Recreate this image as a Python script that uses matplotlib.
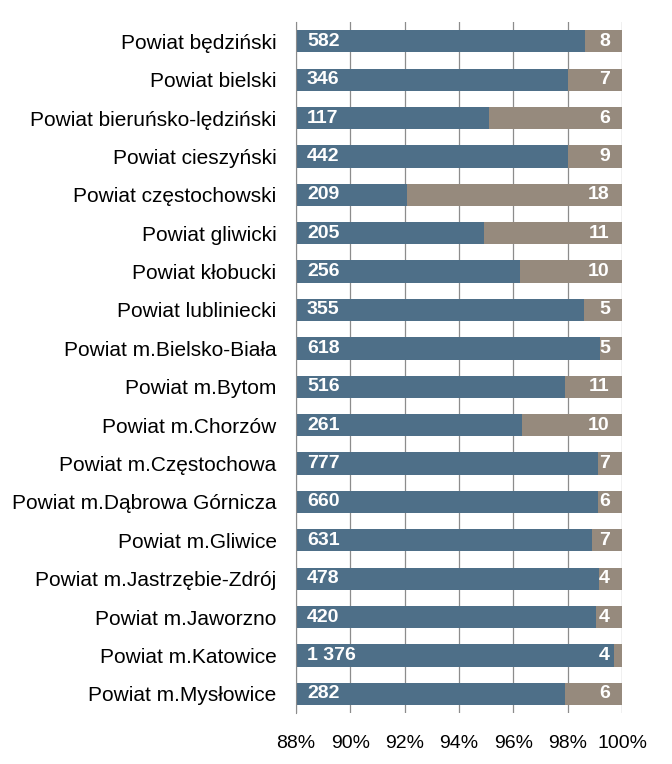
import numpy as np
import matplotlib.pyplot as plt
from matplotlib.ticker import FuncFormatter

plt.rcParams['font.family'] = ['Liberation Sans', 'DejaVu Sans']

powiaty = ['Powiat będziński', 'Powiat bielski', 'Powiat bieruńsko-lędziński',
           'Powiat cieszyński', 'Powiat częstochowski', 'Powiat gliwicki',
           'Powiat kłobucki', 'Powiat lubliniecki', 'Powiat m.Bielsko-Biała',
           'Powiat m.Bytom', 'Powiat m.Chorzów', 'Powiat m.Częstochowa',
           'Powiat m.Dąbrowa Górnicza', 'Powiat m.Gliwice',
           'Powiat m.Jastrzębie-Zdrój', 'Powiat m.Jaworzno',
           'Powiat m.Katowice', 'Powiat m.Mysłowice']
blue_vals = [582, 346, 117, 442, 209, 205, 256, 355, 618, 516, 261, 777, 660, 631,
             478, 420, 1376, 282]
grey_vals = [8, 7, 6, 9, 18, 11, 10, 5, 5, 11, 10, 7, 6, 7, 4, 4, 4, 6]

blue_c = '#4E6F88'
grey_c = '#968A7D'

blue = np.array(blue_vals, dtype=float)
grey = np.array(grey_vals, dtype=float)
total = blue + grey
pb = blue / total * 100
pg = grey / total * 100
y = np.arange(len(powiaty))

fig = plt.figure(figsize=(6.72, 7.64), dpi=100)
ax = fig.add_axes([0.4405, 0.0668, 0.4851, 0.9042])

ax.barh(y, pb, height=0.58, color=blue_c, zorder=2)
ax.barh(y, pg, left=pb, height=0.58, color=grey_c, zorder=2)


def fmt(v):
    return f'{v:,}'.replace(',', ' ')


for i in range(len(y)):
    ax.text(88.4, y[i], fmt(blue_vals[i]), color='white', fontweight='bold',
            fontsize=14, va='center', ha='left', zorder=3)
    ax.text(99.55, y[i], fmt(grey_vals[i]), color='white', fontweight='bold',
            fontsize=14, va='center', ha='right', zorder=3)

ax.set_xlim(88, 100)
ax.set_ylim(len(powiaty) - 0.5, -0.5)
ax.set_xticks(np.arange(88, 101, 2))
ax.xaxis.set_major_formatter(FuncFormatter(lambda v, p: f'{v:.0f}%'))
ax.set_yticks(y)
ax.set_yticklabels(powiaty)
ax.tick_params(axis='y', length=0, pad=14, labelsize=15)
ax.tick_params(axis='x', length=0, pad=16, labelsize=14)
ax.grid(axis='x', color='#8C8C8C', linewidth=0.9, zorder=0)
for s in ['top', 'right', 'bottom']:
    ax.spines[s].set_visible(False)
ax.spines['left'].set_color('#8C8C8C')

plt.savefig('out.png', dpi=100)
